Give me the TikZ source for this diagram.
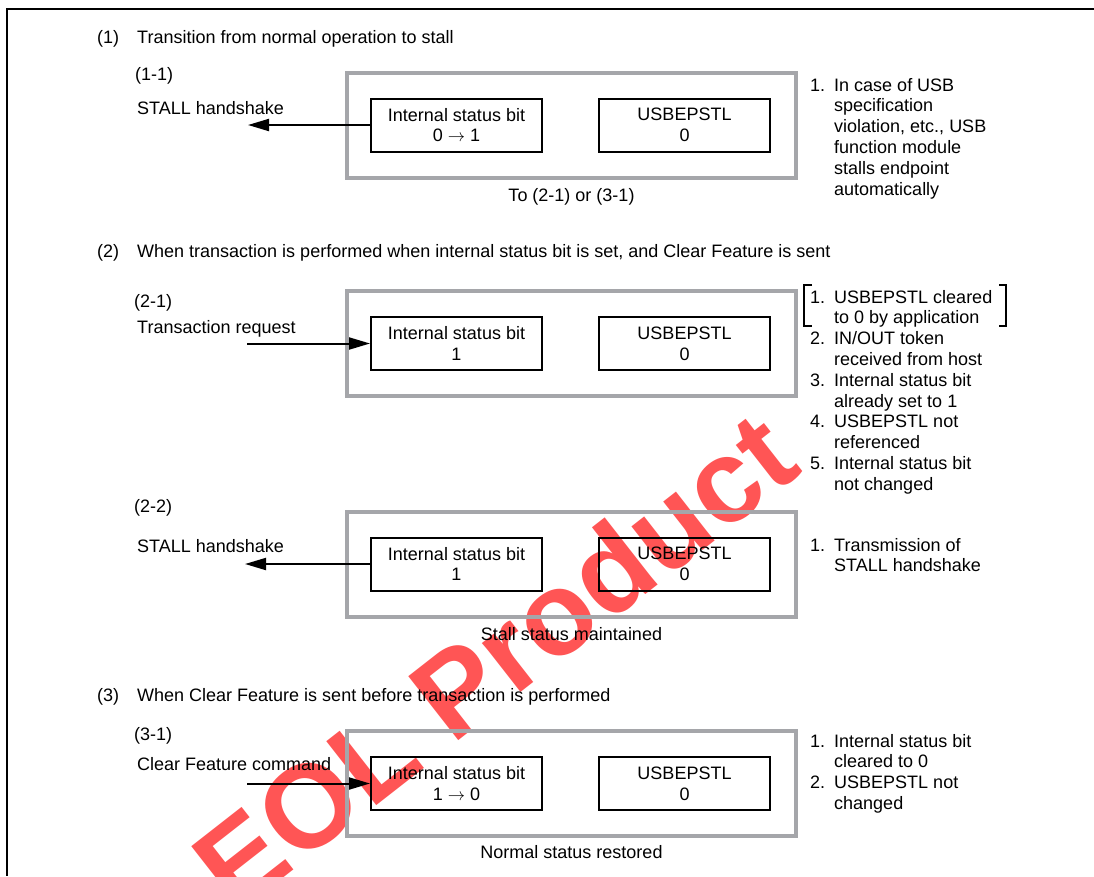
\documentclass[tikz,border=0pt]{standalone}
\usepackage{fontspec}
\setmainfont{Liberation Sans}
\usetikzlibrary{arrows.meta,positioning}

\definecolor{framegray}{RGB}{165,166,170}
\definecolor{markred}{RGB}{255,20,20}

\tikzset{
    outerbox/.style={draw=framegray, line width=4pt, minimum width=449pt, minimum height=105pt, inner sep=0pt},
    bitbox/.style={draw=black, line width=2pt, minimum width=171pt, minimum height=53pt, align=center, inner sep=0pt},
    txt/.style={anchor=base west, inner sep=0pt},
    ctxt/.style={anchor=base, inner sep=0pt},
    sig/.style={line width=2pt, -{Triangle[length=21pt,width=12pt]}}
}
\newcommand{\notelist}[1]{\begin{tabular}[t]{@{}p{24pt}@{}l@{}}#1\end{tabular}}

\begin{document}
\begin{tikzpicture}[x=1pt, y=-1pt, font=\fontsize{18}{20.8}\selectfont]
    \useasboundingbox (0,0) rectangle (1094,876);

    % Watermark behind everything
    \node[font=\bfseries\fontsize{118}{118}\selectfont, text=markred, opacity=0.72, rotate=38] (eol) at (494,660) {EOL Product};

    % Frame
    \draw[line width=2.5pt] (1094,9) -- (7,9) -- (7,876);

    % (1) Transition from normal operation to stall
    \node[txt] (h1) at (97,43) {(1)};
    \node[txt] (h1t) at (137,43) {Transition from normal operation to stall};
    \node[txt] (l11) at (135,80) {(1-1)};
    \node[txt] (s11) at (137,114) {STALL handshake};
    \node[outerbox] (frame11) at (571.5,125) {};
    \node[bitbox] (isb11) at (456.5,125) {Internal status bit\\0 $\rightarrow$ 1};
    \node[bitbox] (ept11) at (684.5,125) {USBEPSTL\\0};
    \coordinate (hs11) at (248,125);
    \draw[sig] (isb11.west) -- (hs11);
    \node[ctxt] (c11) at (571.5,201) {To (2-1) or (3-1)};
    \node[txt] (n11) at (810,91) {\notelist{1. & In case of USB\\ & specification\\ & violation, etc., USB\\ & function module\\ & stalls endpoint\\ & automatically}};

    % (2) Transaction performed while internal status bit is set
    \node[txt] (h2) at (97,257) {(2)};
    \node[txt] (h2t) at (137,257) {When transaction is performed when internal status bit is set, and Clear Feature is sent};
    \node[txt] (l21) at (134,307) {(2-1)};
    \node[txt] (s21) at (137,333) {Transaction request};
    \node[outerbox] (frame21) at (571.5,343.5) {};
    \node[bitbox] (isb21) at (456.5,343.5) {Internal status bit\\1};
    \node[bitbox] (ept21) at (684.5,343.5) {USBEPSTL\\0};
    \coordinate (tr21) at (247,343.5);
    \draw[sig] (tr21) -- (isb21.west);
    \node[txt] (n21) at (810,303) {\notelist{1. & USBEPSTL cleared\\ & to 0 by application\\ 2. & IN/OUT token\\ & received from host\\ 3. & Internal status bit\\ & already set to 1\\ 4. & USBEPSTL not\\ & referenced\\ 5. & Internal status bit\\ & not changed}};
    \draw[line width=2pt] (812,285) -| (804,326) -- (812,326);
    \draw[line width=2pt] (999,285) -| (1006,326) -- (999,326);

    % (2-2)
    \node[txt] (l22) at (134,512) {(2-2)};
    \node[txt] (s22) at (137,552) {STALL handshake};
    \node[outerbox] (frame22) at (571.5,564) {};
    \node[bitbox] (isb22) at (456.5,564) {Internal status bit\\1};
    \node[bitbox] (ept22) at (684.5,564) {USBEPSTL\\0};
    \coordinate (hs22) at (245,564);
    \draw[sig] (isb22.west) -- (hs22);
    \node[ctxt] (c22) at (571.5,640) {Stall status maintained};
    \node[txt] (n22) at (810,551) {\notelist{1. & Transmission of\\ & STALL handshake}};

    % (3) Clear Feature before transaction
    \node[txt] (h3) at (97,701) {(3)};
    \node[txt] (h3t) at (137,701) {When Clear Feature is sent before transaction is performed};
    \node[txt] (l31) at (134,740) {(3-1)};
    \node[txt] (s31) at (137,770) {Clear Feature command};
    \node[outerbox] (frame31) at (571.5,783.5) {};
    \node[bitbox] (isb31) at (456.5,783.5) {Internal status bit\\1 $\rightarrow$ 0};
    \node[bitbox] (ept31) at (684.5,783.5) {USBEPSTL\\0};
    \coordinate (cf31) at (247,783.5);
    \draw[sig] (cf31) -- (isb31.west);
    \node[ctxt] (c31) at (571.5,858) {Normal status restored};
    \node[txt] (n31) at (810,747) {\notelist{1. & Internal status bit\\ & cleared to 0\\ 2. & USBEPSTL not\\ & changed}};
\end{tikzpicture}
\end{document}
